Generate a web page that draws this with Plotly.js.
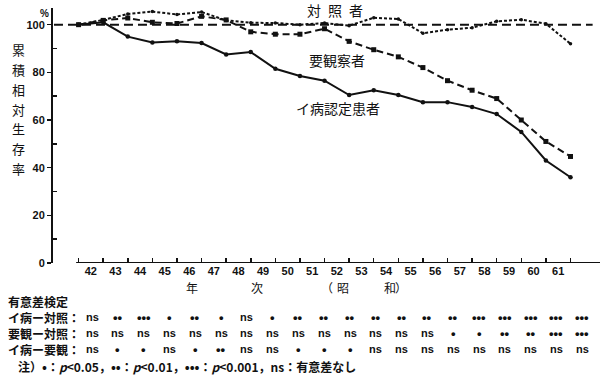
<!DOCTYPE html>
<html>
<head>
<meta charset="utf-8">
<script src="https://cdn.plot.ly/plotly-3.0.1.min.js"></script>
<style>html,body{margin:0;padding:0;background:#fff;}#chart{width:600px;height:377px;}</style>
</head>
<body>
<div id="chart"></div>
<script>
// ---- data ----
const years = ['42','43','44','45','46','47','48','49','50','51','52','53','54','55','56','57','58','59','60','61'];
const yTicks = [0, 20, 40, 60, 80, 100];
const patients = [100, 101, 95, 92.5, 93, 92.3, 87.5, 88.5, 81.5, 78.5, 76.5, 70.5, 72.5, 70.5, 67.5, 67.5, 65.5, 62.5, 55, 43, 36];
const observed = [100, 101.8, 102.8, 101, 100.5, 103.5, 102, 97, 96, 96, 98.3, 93, 89.5, 86.5, 82, 76.5, 72.5, 69, 60, 51, 44.7];
const controls = [100, 102, 104.5, 105.5, 104.3, 105.3, 101.8, 100.8, 100.7, 100, 100.7, 99.6, 102.9, 102.4, 96.4, 97.9, 98.7, 101.4, 102.1, 100.4, 92];
const baseX = [40.5, 62.4];
const baseY = [100, 100];
const seriesNames = ['対\u2002照\u2002者', '要観察者', 'イ病認定患者'];
const yTitle = ['累','積','相','対','生','存','率'];
const rowLabels = ['イ病ー対照：', '要観ー対照：', 'イ病ー要観：'];
const sigPatCtrl = ['ns','••','•••','•','••','•','ns','•','••','••','••','••','••','••','••','•••','•••','•••','•••','•••'];
const sigObsCtrl = ['ns','ns','ns','ns','ns','ns','ns','ns','ns','ns','ns','ns','ns','ns','•','•','••','••','•••','•••'];
const sigPatObs  = ['ns','•','•','ns','•','••','ns','ns','•','•','•','ns','ns','ns','ns','ns','ns','ns','ns','ns'];

// x positions: period boundaries (start of 42 ... end of 61)
const xs = [Number(years[0]) - 0.5].concat(years.map(y => Number(y) + 0.5));

// ---- layout helpers ----
const L = 53, R = 0, T = 8, B = 114, W = 600 - L - R, H = 377 - T - B;
const px = v => (v - L) / W;
const py = v => (377 - B - v) / H;
const ink = '#111';
const cjk = '"Noto Sans CJK JP", "Noto Sans", sans-serif';
const num = '"Liberation Sans", Arial, sans-serif';
const xr = [40.46, 62.7];
const bigDots = s => s.replace(/(•+)/g, '<span style="font-size:13px">$1</span>');

const traces = [
  {x: baseX, y: baseY, mode: 'lines', xaxis: 'x2', line: {color: ink, width: 2, dash: '9px,5px'}, hoverinfo: 'skip'},
  {x: xs, y: controls, mode: 'lines+markers', line: {color: ink, width: 2, dash: '3px,2px'}, marker: {color: ink, size: 3.5, symbol: 'circle'}},
  {x: xs, y: observed, mode: 'lines+markers', line: {color: ink, width: 2, dash: '7px,4px'}, marker: {color: ink, size: 5, symbol: 'square'}},
  {x: xs, y: patients, mode: 'lines+markers', line: {color: ink, width: 2}, marker: {color: ink, size: 4.5, symbol: 'circle'}}
];

const ann = [];
const addText = (text, x, y, opts) => ann.push(Object.assign({
  text: text, x: px(x), y: py(y), xref: 'paper', yref: 'paper', showarrow: false,
  xanchor: 'center', yanchor: 'middle', font: {family: cjk, size: 12, color: ink}
}, opts || {}));

// y title characters
yTitle.forEach((c, i) => addText(c, 18, 50 + i * 19.7, {font: {family: cjk, size: 13, color: ink}}));
addText('%', 44, 13, {font: {family: num, size: 10, color: ink, weight: 'bold'}});
// series labels
addText(seriesNames[0], 335, 10, {font: {family: cjk, size: 14, color: ink}});
addText(seriesNames[1], 337, 60, {font: {family: cjk, size: 14, color: ink}});
addText(seriesNames[2], 338, 108, {font: {family: cjk, size: 14, color: ink}});
// x title
addText('年', 192, 287, {font: {family: cjk, size: 12, color: ink}});
addText('次', 257, 287, {font: {family: cjk, size: 12, color: ink}});
addText('（', 327, 287, {font: {family: cjk, size: 12, color: ink}});
addText('昭', 343, 287, {font: {family: cjk, size: 12, color: ink}});
addText('和', 390, 287, {font: {family: cjk, size: 12, color: ink}});
addText('）', 401, 287, {font: {family: cjk, size: 12, color: ink}});
// table
const bold = {family: cjk, size: 12, color: ink, weight: 'bold'};
addText('有意差検定', 6, 301, {xanchor: 'left', font: bold});
const rows = [sigPatCtrl, sigObsCtrl, sigPatObs];
const rowY = [317, 333, 349];
rows.forEach((r, ri) => {
  addText(rowLabels[ri], 6, rowY[ri], {xanchor: 'left', font: bold});
  r.forEach((v, ci) => addText(v, 92 + ci * 25.8, rowY[ri], {
    font: {family: num, size: v.indexOf('•') >= 0 ? 13 : 11, color: ink, weight: 'bold'}
  }));
});
addText(bigDots('注）•：<i>p</i>&lt;0.05，••：<i>p</i>&lt;0.01，•••：<i>p</i>&lt;0.001，ns：有意差なし'), 16, 367, {xanchor: 'left', font: bold});

const layout = {
  width: 600, height: 377,
  margin: {l: L, r: R, t: T, b: B, pad: 0},
  paper_bgcolor: '#fff', plot_bgcolor: '#fff',
  showlegend: false, hovermode: false,
  xaxis: {
    range: xr, showgrid: false, zeroline: false, showline: false,
    tickmode: 'array', tickvals: xs, ticks: 'inside', ticklen: 5, tickwidth: 1.5, tickcolor: ink,
    showticklabels: false
  },
  xaxis2: {
    overlaying: 'x', anchor: 'y', side: 'bottom', range: xr,
    showgrid: false, zeroline: false, showline: false,
    tickmode: 'array', tickvals: years.map(Number), ticktext: years, ticks: '',
    tickfont: {family: num, size: 11, color: ink, weight: 'bold'}
  },
  yaxis: {
    range: [0, 107], showgrid: false, zeroline: false,
    showline: true, linecolor: ink, linewidth: 2,
    tickmode: 'array', tickvals: yTicks, ticks: 'outside', ticklen: 4, tickwidth: 1.5, tickcolor: ink,
    tickfont: {family: num, size: 11, color: ink, weight: 'bold'},
    minor: {tickmode: 'linear', tick0: 10, dtick: 20, ticks: 'inside', ticklen: 4, tickwidth: 1.5, tickcolor: ink}
  },
  shapes: [
    {type: 'line', xref: 'x', yref: 'y', x0: 41.4, x1: xr[1], y0: 0, y1: 0, line: {color: ink, width: 2}}
  ],
  annotations: ann
};

Plotly.newPlot('chart', traces, layout, {staticPlot: true, displayModeBar: false});
</script>
</body>
</html>
